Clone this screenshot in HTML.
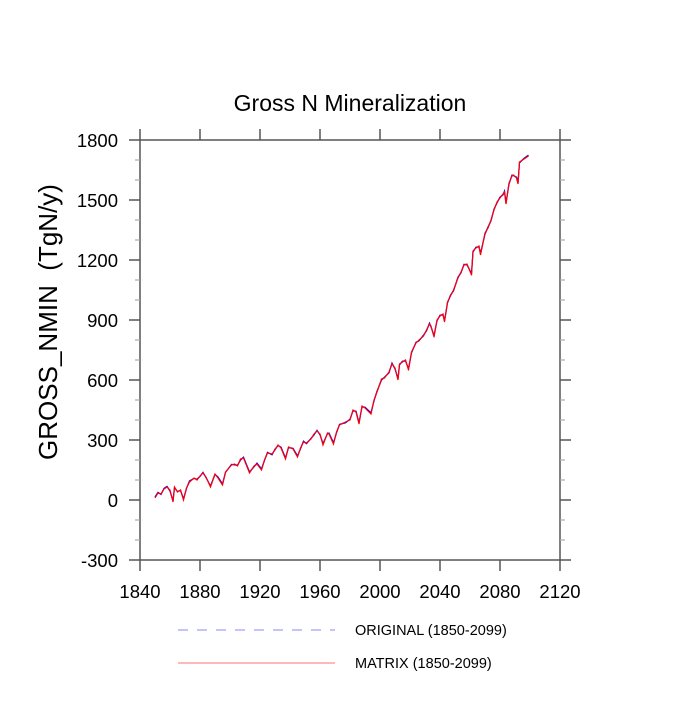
<!DOCTYPE html>
<html><head><meta charset="utf-8"><style>
body{margin:0;background:#fff}
svg text{font-family:"Liberation Sans",sans-serif;fill:#000}
</style></head><body>
<svg id="c" width="700" height="700">
<text x="350" y="111" font-size="23" text-anchor="middle">Gross N Mineralization</text>
<text transform="translate(57,322) rotate(-90)" font-size="26" text-anchor="middle">GROSS_NMIN&#160;&#160;(TgN/y)</text>
<g id="axes"></g>
<g id="series"></g>
<g>
<line x1="178" y1="630" x2="335" y2="630" stroke="#6060ff" stroke-width="0.8" stroke-dasharray="10,9"/>
<text x="355" y="635" font-size="14.5">ORIGINAL (1850-2099)</text>
<line x1="178" y1="663" x2="335" y2="663" stroke="#ff4040" stroke-width="0.8"/>
<text x="355" y="668" font-size="14.5">MATRIX (1850-2099)</text>
</g>
</svg>
<script>
const years=[1850,1852,1854,1856,1858,1860,1862,1863,1865,1867,1869,1871,1873,1876,1878,1880,1882,1884,1887,1890,1892,1895,1897,1901,1903,1905,1907,1909,1913,1916,1918,1921,1923,1925,1928,1930,1932,1934,1937,1939,1942,1945,1947,1949,1951,1954,1956,1958,1960,1962,1965,1966,1969,1971,1973,1977,1980,1982,1984,1986,1988,1990,1994,1996,1998,2001,2003,2006,2008,2010,2012,2013,2015,2017,2019,2021,2024,2026,2029,2031,2033,2034,2036,2038,2040,2042,2043,2045,2047,2049,2052,2054,2056,2058,2061,2062,2064,2066,2067,2070,2072,2074,2076,2078,2080,2082,2083,2084,2086,2088,2089,2091,2092,2093,2096,2099];
const matrixVals=[10,35,30,55,65,50,-10,65,40,50,0,60,90,110,100,120,135,115,65,130,110,75,140,175,180,170,205,210,135,170,180,150,200,235,230,250,275,260,205,265,255,215,260,290,285,305,330,345,330,275,335,330,280,340,375,390,400,450,440,380,470,460,430,500,540,605,610,640,680,660,600,680,690,700,650,740,785,800,820,850,880,870,815,900,920,930,890,990,1020,1050,1110,1140,1175,1180,1125,1245,1260,1270,1225,1335,1360,1400,1450,1490,1510,1530,1540,1480,1585,1620,1625,1610,1580,1690,1705,1720];
const originalVals=[15,38,28,58,68,45,-5,62,42,48,5,58,95,108,104,118,138,112,70,128,115,80,138,178,176,174,200,214,140,166,184,155,198,238,226,254,272,264,210,262,258,220,256,294,282,308,326,348,326,282,332,334,286,336,378,386,404,446,444,386,466,464,436,496,544,600,614,636,684,656,606,676,694,696,656,736,788,796,824,846,884,866,822,896,924,926,896,986,1024,1046,1114,1136,1178,1176,1132,1240,1264,1266,1232,1330,1364,1396,1454,1486,1514,1526,1544,1486,1580,1624,1622,1614,1586,1686,1708,1724];
const xTicks=[1840,1880,1920,1960,2000,2040,2080,2120];
const yTicks=[-300,0,300,600,900,1200,1500,1800];
const X0=140,X1=560,Y0=140,Y1=560;
const xs=v=>X0+(v-1840)/(2120-1840)*(X1-X0);
const ys=v=>Y1-(v+300)/(2100)*(Y1-Y0);
const NS="http://www.w3.org/2000/svg";
const ax=document.getElementById('axes');
function mk(t,a,p){const e=document.createElementNS(NS,t);for(const k in a)e.setAttribute(k,a[k]);p.appendChild(e);return e;}
const box=mk('rect',{x:X0,y:Y0,width:X1-X0,height:Y1-Y0,fill:'none',stroke:'#555','stroke-width':1.5},ax);


xTicks.forEach(v=>{const x=xs(v);
 mk('line',{x1:x,y1:Y1,x2:x,y2:Y1+11,stroke:'#555','stroke-width':1.5},ax);
 mk('line',{x1:x,y1:Y0,x2:x,y2:Y0-11,stroke:'#555','stroke-width':1.5},ax);
 const t=mk('text',{x:x,y:Y1+38,'font-size':18.5,'text-anchor':'middle'},ax);t.textContent=v;
 
 
});
for(let v=-300;v<=1800;v+=100){const y=ys(v);const maj=(v%300===0);const L=maj?11:5;
 mk('line',{x1:X0,y1:y,x2:X0-L,y2:y,stroke:maj?'#555':'#aaa','stroke-width':maj?1.5:1.2},ax);
 mk('line',{x1:X1,y1:y,x2:X1+L,y2:y,stroke:maj?'#555':'#aaa','stroke-width':maj?1.5:1.2},ax);}
yTicks.forEach(v=>{const t=mk('text',{x:X0-22,y:ys(v)+7,'font-size':18.5,'text-anchor':'end'},ax);t.textContent=v;
 
 
});
const sg=document.getElementById('series');
function path(vals){return vals.map((v,i)=>(i?'L':'M')+xs(years[i]).toFixed(1)+','+ys(v).toFixed(1)).join('');}
const po=mk('path',{d:path(originalVals),fill:'none',stroke:'#0000ff','stroke-width':1.3},sg);


const pm=mk('path',{d:path(matrixVals),fill:'none',stroke:'#ff0000','stroke-width':1.2},sg);


</script>
</body></html>
